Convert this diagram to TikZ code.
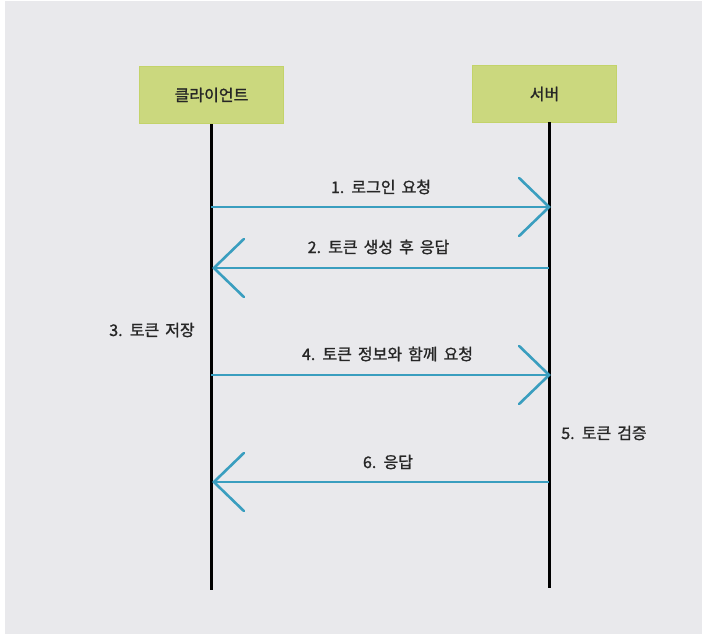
\documentclass[tikz,border=0pt]{standalone}
\usepackage{fontspec}
\newfontfamily\kr{Noto Sans CJK KR}[FakeBold=1.2]
\newcommand\lblfont{\kr\fontsize{16}{19}\selectfont\spaceskip6pt\relax}
\usetikzlibrary{arrows.meta}
\definecolor{bg}{HTML}{E9E9EC}
\definecolor{boxfill}{HTML}{CBD87E}
\definecolor{boxline}{HTML}{C3D36A}
\definecolor{msg}{HTML}{3A9EBF}
\tikzset{
  actor/.style={draw=boxline, line width=1.2pt, fill=boxfill, minimum width=144pt, minimum height=57pt, inner sep=0pt, font=\lblfont, text=black!85},
  lifeline/.style={line width=3pt, black},
  message/.style={line width=2.6pt, msg, -{Straight Barb[length=30pt,width=58pt,line cap=round]}},
  label/.style={font=\lblfont, text=black!85, inner sep=0pt}
}
\begin{document}
\begin{tikzpicture}[x=1pt,y=-1pt]
\useasboundingbox (0,0) rectangle (702,634);
\fill[white] (0,0) rectangle (702,634);
\fill[bg] (5,1) rectangle (702,634);
\node[actor] (client) at (211.5,95) {클라이언트};
\node[actor] (server) at (544.5,94) {서버};
\coordinate (cTop) at (211,124);
\coordinate (cBot) at (211,590);
\coordinate (sTop) at (549,122);
\coordinate (sBot) at (549,588);
\draw[lifeline] (cTop) -- (cBot);
\draw[lifeline] (sTop) -- (sBot);
\coordinate (c1) at (211,207); \coordinate (s1) at (551,207);
\coordinate (c2) at (212,268); \coordinate (s2) at (549,268);
\coordinate (c4) at (211,375); \coordinate (s4) at (551,375);
\coordinate (c6) at (212,482); \coordinate (s6) at (549,482);
\draw[message] (c1) -- (s1);
\draw[message] (s2) -- (c2);
\draw[message] (c4) -- (s4);
\draw[message] (s6) -- (c6);
\node[label] (l1) at (381,187) {1. 로그인 요청};
\node[label] (l2) at (378.5,247) {2. 토큰 생성 후 응답};
\node[label] (l3) at (152,330) {3. 토큰 저장};
\node[label] (l4) at (387.5,354) {4. 토큰 정보와 함께 요청};
\node[label] (l5) at (604,433) {5. 토큰 검증};
\node[label] (l6) at (388,462) {6. 응답};
\end{tikzpicture}
\end{document}
